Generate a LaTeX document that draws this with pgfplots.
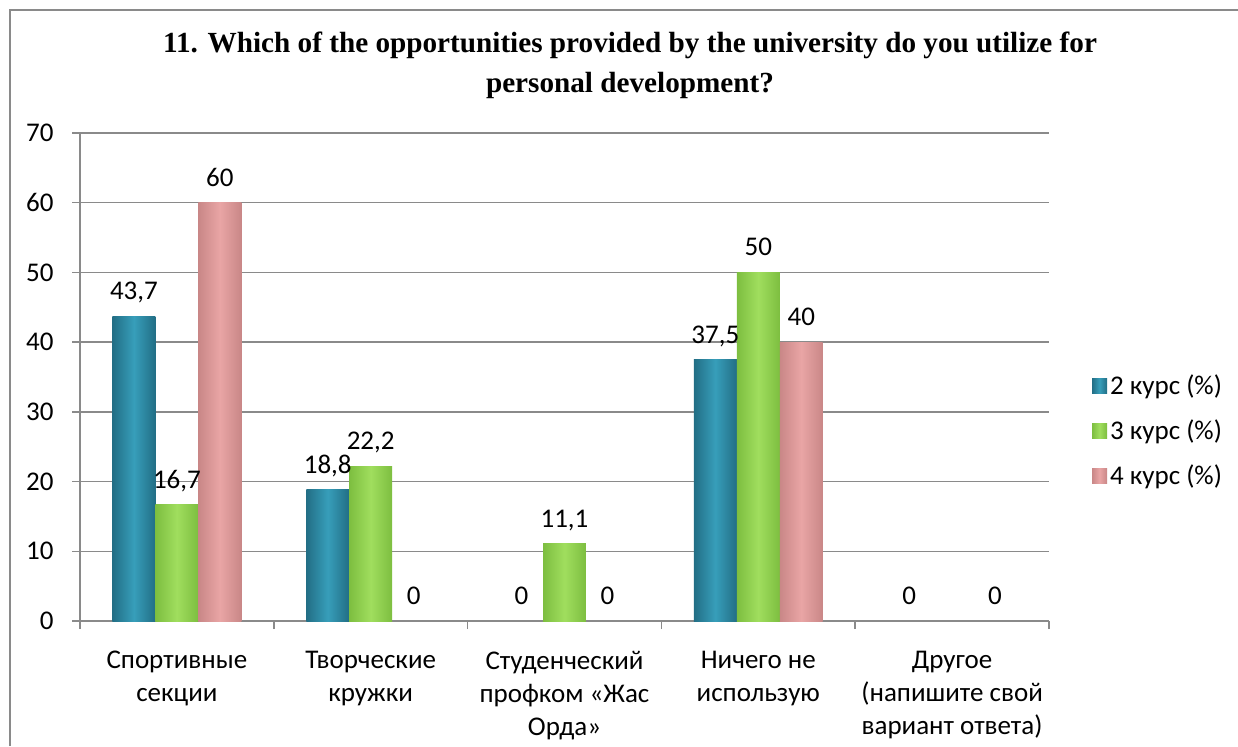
\documentclass[border=0pt]{standalone}
\usepackage{fontspec}
\setmainfont{Carlito}
\newfontfamily\titlefont{Liberation Serif}
\usepackage{pgfplots}
\pgfplotsset{compat=1.18}

\definecolor{gridgray}{HTML}{8A8A8A}
\definecolor{bluE}{HTML}{226E85}
\definecolor{bluC}{HTML}{379EBA}
\definecolor{grnE}{HTML}{7DBE40}
\definecolor{grnC}{HTML}{A0DE5E}
\definecolor{pnkE}{HTML}{C98787}
\definecolor{pnkC}{HTML}{E9A5A5}

% each bar is its own plot so that every bar gets its own shading
\pgfplotsset{
  blueBar/.style={left color=bluE, right color=bluE, middle color=bluC, draw=none, bar shift=-0.2216},
  greenBar/.style={left color=grnE, right color=grnE, middle color=grnC, draw=none, bar shift=0},
  pinkBar/.style={left color=pnkE, right color=pnkE, middle color=pnkC, draw=none, bar shift=0.2216},
}

\begin{document}
\begin{tikzpicture}[font=\fontsize{13.5}{16.5}\selectfont]
\useasboundingbox (0,0) rectangle (619pt,373pt);
% frame (cut off on the right and at the bottom)
\draw[gridgray, line width=1pt] (5pt,0) -- (5pt,368pt) -- (619pt,368pt);
\node[font=\titlefont\bfseries\fontsize{14.6}{20}\selectfont, align=center] at (315pt,340.5pt)
  {11. Which of the opportunities provided by the university do you utilize for\\personal development?};

\begin{axis}[
  at={(40pt,62.5pt)}, anchor=south west,
  scale only axis, width=484.5pt, height=244pt,
  xmin=0.5, xmax=5.5, ymin=0, ymax=70,
  ybar, bar width=0.2216,
  ytick={0,10,...,70},
  xtick={1,...,5},
  xticklabels={{Спортивные\\секции}, {Творческие\\кружки}, {Студенческий\\профком «Жас\\Орда»}, {Ничего не\\использую}, {Другое\\(напишите свой\\вариант ответа)}},
  minor xtick={0.5,1.5,...,5.5},
  major x tick style={draw=none},
  tick align=outside,
  major tick length=4pt, minor tick length=4pt,
  tick style={gridgray, line width=0.75pt},
  axis x line*=bottom, axis y line*=left,
  axis line style={gridgray, line width=0.75pt, -},
  ymajorgrids, grid style={gridgray, line width=0.75pt},
  /pgf/number format/assume math mode=true,
  xticklabel style={align=center, inner sep=0pt, yshift=-11pt},
  yticklabel style={inner sep=0pt, xshift=-9pt},
  nodes near coords={\pgfmathprintnumber[fixed, precision=1, use comma]{\pgfplotspointmeta}},
  nodes near coords style={anchor=base, inner sep=0pt, yshift=8.25pt, black},
  legend style={at={(1.044,0.389)}, anchor=west, draw=none, fill=none, inner sep=0pt,
    row sep=8pt, nodes={inner sep=1.5pt}},
  legend cell align=left,
  legend image code/.code={\path[#1] (0pt,-3.75pt) rectangle (7.5pt,3.75pt);},
]
% 2 курс: 43.7 18.8 0 37.5 0 ; 3 курс: 16.7 22.2 11.1 50 - ; 4 курс: 60 0 0 40 0
\addplot[blueBar] coordinates {(1,43.7)};
\addlegendentry{2 курс (\%)}
\addplot[greenBar] coordinates {(1,16.7)};
\addlegendentry{3 курс (\%)}
\addplot[pinkBar] coordinates {(1,60)};
\addlegendentry{4 курс (\%)}

\addplot[blueBar, forget plot] coordinates {(2,18.8)};
\addplot[blueBar, forget plot] coordinates {(3,0)};
\addplot[blueBar, forget plot] coordinates {(4,37.5)};
\addplot[blueBar, forget plot] coordinates {(5,0)};

\addplot[greenBar, forget plot] coordinates {(2,22.2)};
\addplot[greenBar, forget plot] coordinates {(3,11.1)};
\addplot[greenBar, forget plot] coordinates {(4,50)};

\addplot[pinkBar, forget plot] coordinates {(2,0)};
\addplot[pinkBar, forget plot] coordinates {(3,0)};
\addplot[pinkBar, forget plot] coordinates {(4,40)};
\addplot[pinkBar, forget plot] coordinates {(5,0)};
\end{axis}
\end{tikzpicture}
\end{document}
